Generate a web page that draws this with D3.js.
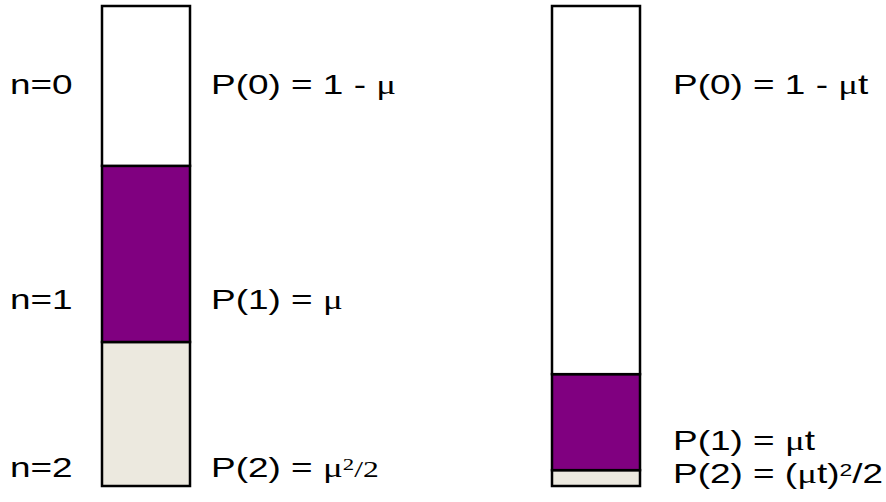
<!DOCTYPE html>
<html lang="en">
<head>
  <meta charset="UTF-8">
  <title>Poisson bars</title>
  <script src="https://d3js.org/d3.v7.min.js"></script>
  <style>
    * { margin: 0; padding: 0; box-sizing: border-box; }
    body { background: #fff; font-family: Arial, "Liberation Sans", sans-serif; }
    .sym { font-family: "Liberation Serif", "Times New Roman", serif; }
  </style>
</head>
<body>
  <div id="chart"></div>
  <script>
    // data
    const columns = ["mu", "mut"];
    const states = ["n=0", "n=1", "n=2"];
    const leftShares = [0.333, 0.367, 0.300];   // n=0, n=1, n=2
    const rightShares = [0.767, 0.200, 0.033];
    const stateColors = ["#ffffff", "#800080", "#ece9df"];

    const width = 886, height = 502;
    const barW = 88;

    const svg = d3.select("#chart").append("svg")
      .attr("width", width)
      .attr("height", height);

    const x = d3.scalePoint()
      .domain(columns)
      .range([146, 596]);

    const y = d3.scaleLinear()
      .domain([0, 1])
      .range([486, 6]);

    // stack from bottom (n=2) up to top (n=0)
    function stackUp(shares) {
      const out = [];
      let acc = 0;
      for (let i = shares.length - 1; i >= 0; i--) {
        out.push({ state: i, y0: acc, y1: acc + shares[i] });
        acc += shares[i];
      }
      return out;
    }

    const sets = [leftShares, rightShares];
    columns.forEach((c, ci) => {
      const g = svg.append("g");
      g.selectAll("rect")
        .data(stackUp(sets[ci]))
        .enter()
        .append("rect")
        .attr("x", x(c) - barW / 2)
        .attr("width", barW)
        .attr("y", d => y(d.y1))
        .attr("height", d => y(d.y0) - y(d.y1))
        .attr("fill", d => stateColors[d.state])
        .attr("stroke", "#000")
        .attr("stroke-width", 2.5);
    });

    // the original text is a bit wide, so stretch it sideways
    const fs = 28, sx = 1.32;

    // n labels, left of first bar
    const nLevels = [0.8167, 0.369, 0.019];
    svg.selectAll(".nlab")
      .data(states)
      .enter()
      .append("text")
      .attr("class", "nlab")
      .attr("transform", (d, i) => `translate(10,${y(nLevels[i])}) scale(${sx},1)`)
      .style("font-size", fs + "px")
      .text(d => d);

    function addLabel(px, level, parts) {
      const t = svg.append("text")
        .attr("transform", `translate(${px},${y(level)}) scale(${sx},1)`)
        .style("font-size", fs + "px")
        .attr("fill", "#000");
      parts.forEach(p => {
        const s = t.append("tspan").text(p.t);
        if (p.serif) s.attr("class", "sym");
        if (p.sup) s.attr("baseline-shift", "38%").style("font-size", (fs * 0.62) + "px");
        if (p.size) s.style("font-size", p.size + "px");
      });
    }

    const lx = x("mu") + barW / 2 + 21;
    const rx = x("mut") + barW / 2 + 33;

    addLabel(lx, 0.8167, [{ t: "P(0) = 1 - " }, { t: "μ", serif: true }]);
    addLabel(lx, 0.369, [{ t: "P(1) = " }, { t: "μ", serif: true }]);
    addLabel(lx, 0.019, [{ t: "P(2) = " }, { t: "μ", serif: true }, { t: "2", serif: true, sup: true }, { t: "/2", serif: true, size: 24 }]);

    addLabel(rx, 0.8167, [{ t: "P(0) = 1 - " }, { t: "μ", serif: true }, { t: "t" }]);
    addLabel(rx, 0.075, [{ t: "P(1) = " }, { t: "μ", serif: true }, { t: "t" }]);
    addLabel(rx, 0.006, [{ t: "P(2) = (" }, { t: "μ", serif: true }, { t: "t)" }, { t: "2", sup: true }, { t: "/2" }]);
  </script>
</body>
</html>
